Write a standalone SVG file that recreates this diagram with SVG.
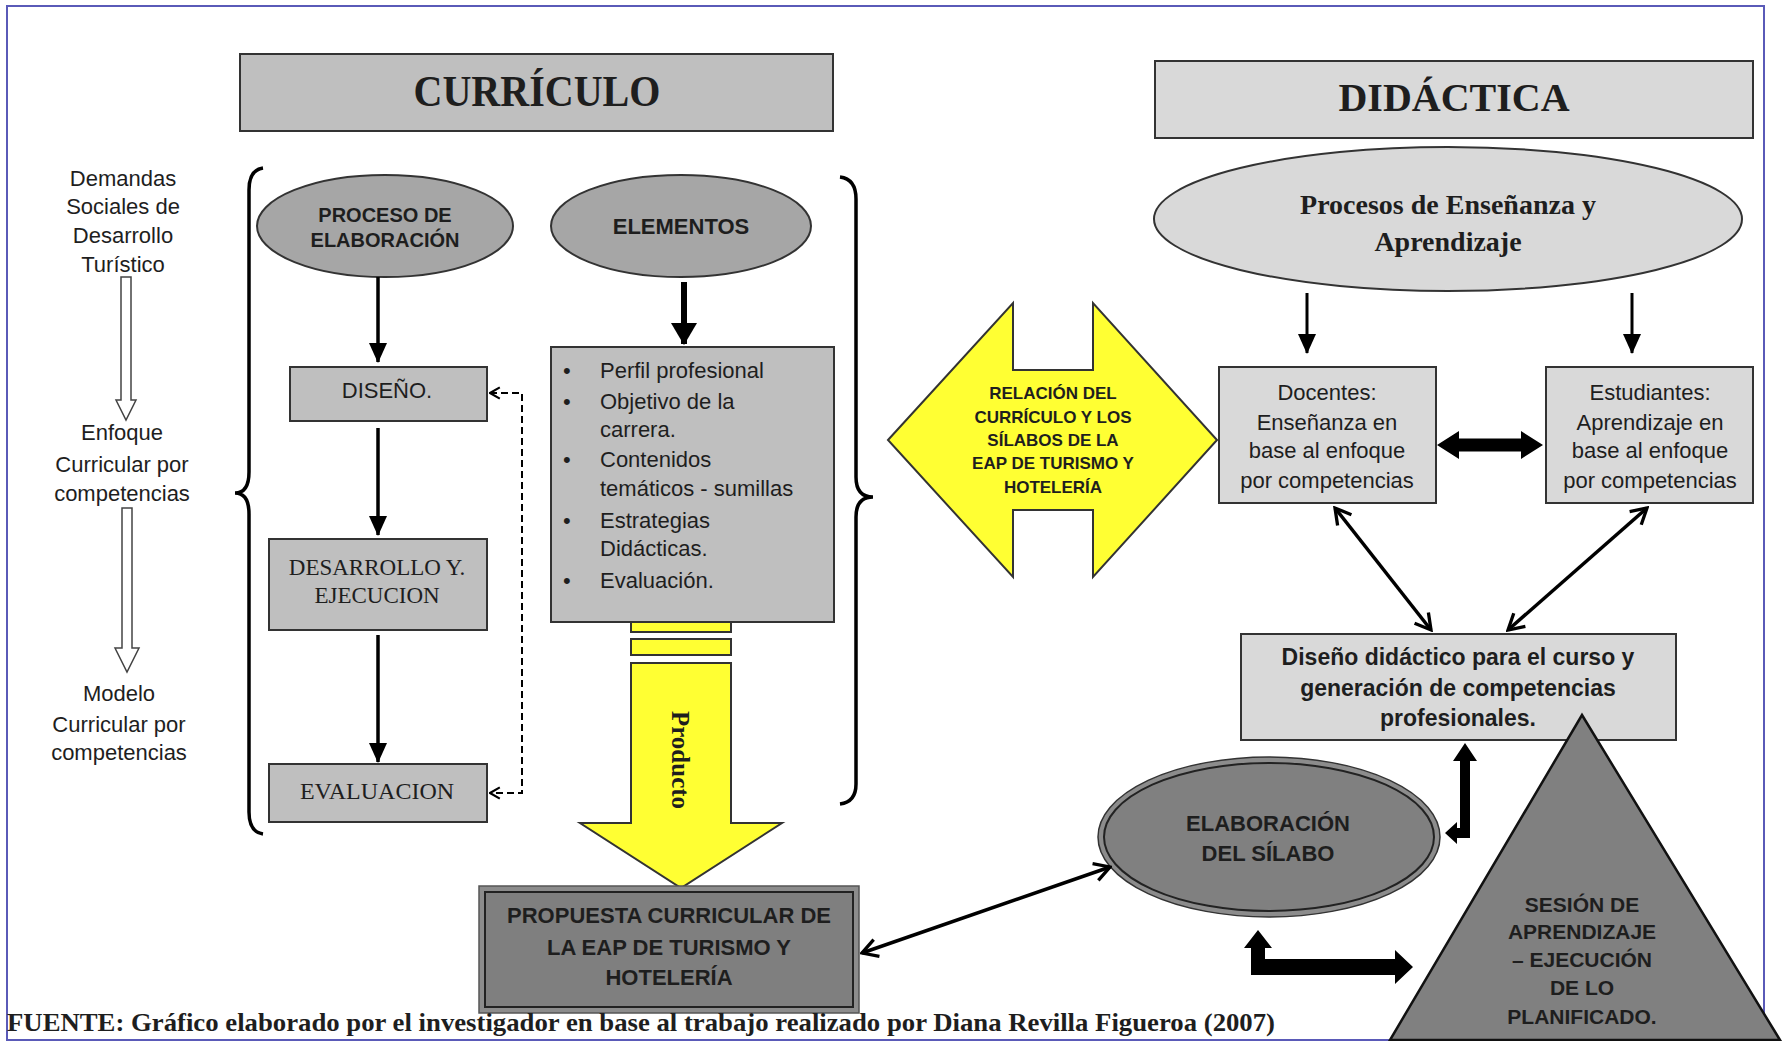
<svg xmlns="http://www.w3.org/2000/svg" width="1784" height="1041" viewBox="0 0 1784 1041">
<defs>
<style>
.s{font-family:"Liberation Sans",Arial,sans-serif;fill:#1e1e1e}
.r{font-family:"Liberation Serif","Times New Roman",serif;fill:#1e1e1e}
.b{font-weight:bold}
.c{text-anchor:middle}
.box{stroke:#333;stroke-width:2}
.g1{fill:#bfbfbf}.g2{fill:#d9d9d9}.g3{fill:#a6a6a6}.g4{fill:#808080}
.yel{fill:#ffff33;stroke:#333;stroke-width:2}
.ln{fill:none;stroke:#000;stroke-width:3.5}
.hol{fill:#fff;stroke:#444;stroke-width:1.5}
.brace{fill:none;stroke:#000;stroke-width:3.5}
.thick{fill:#000;stroke:none}
</style>
<marker id="ah" viewBox="0 0 20 20" refX="19" refY="10" markerUnits="userSpaceOnUse" markerWidth="20" markerHeight="18" orient="auto" preserveAspectRatio="none"><path d="M0,0 L20,10 L0,20 Z" fill="#000"/></marker>
<marker id="ahb" viewBox="0 0 20 20" refX="19" refY="10" markerUnits="userSpaceOnUse" markerWidth="22" markerHeight="26" orient="auto" preserveAspectRatio="none"><path d="M0,0 L20,10 L0,20 Z" fill="#000"/></marker>
<marker id="ov" viewBox="0 0 20 20" refX="18" refY="10" markerUnits="userSpaceOnUse" markerWidth="22" markerHeight="22" orient="auto-start-reverse"><path d="M4,2 L18,10 L4,18" fill="none" stroke="#000" stroke-width="3"/></marker>
<marker id="ovs" viewBox="0 0 20 20" refX="18" refY="10" markerUnits="userSpaceOnUse" markerWidth="14" markerHeight="16" orient="auto-start-reverse"><path d="M4,2 L18,10 L4,18" fill="none" stroke="#000" stroke-width="3"/></marker>
</defs>
<rect x="0" y="0" width="1784" height="1041" fill="#fff"/>
<rect id="frame" x="7" y="6" width="1757" height="1034" fill="none" stroke="#5a5ab8" stroke-width="2"/>

<g id="curriculo">
<rect class="box g1" x="240" y="54" width="593" height="77" stroke-width="2.5"/>
<text class="r b c" x="537" y="106" font-size="44" textLength="247" lengthAdjust="spacingAndGlyphs">CURRÍCULO</text>
</g>
<g id="didactica">
<rect class="box g2" x="1155" y="61" width="598" height="77" stroke-width="2.5"/>
<text class="r b c" x="1454" y="111" font-size="40">DIDÁCTICA</text>
</g>

<g id="left-column">
<text class="s c" font-size="22" fill="#333"><tspan x="123" y="186">Demandas</tspan><tspan x="123" y="214">Sociales de</tspan><tspan x="123" y="243">Desarrollo</tspan><tspan x="123" y="272">Turístico</tspan></text>
<path class="hol" d="M121,277 L131,277 L131,400 L136,400 L126,420 L116,400 L121,400 Z"/>
<text class="s c" font-size="22" fill="#333"><tspan x="122" y="440">Enfoque</tspan><tspan x="122" y="472">Curricular por</tspan><tspan x="122" y="501">competencias</tspan></text>
<path class="hol" d="M122,508 L132,508 L132,648 L139,648 L127,672 L115,648 L122,648 Z"/>
<text class="s c" font-size="22" fill="#333"><tspan x="119" y="701">Modelo</tspan><tspan x="119" y="732">Curricular por</tspan><tspan x="119" y="760">competencias</tspan></text>
</g>

<g id="braces">
<path class="brace" d="M263,168 Q249,170 249,190 L249,472 Q249,493 235,493 Q249,493 249,514 L249,812 Q249,832 263,834"/>
<path class="brace" d="M840,177 Q856,179 856,199 L856,477 Q856,497 873,497 Q856,497 856,517 L856,784 Q856,802 840,804"/>
</g>

<g id="proceso">
<ellipse class="box g3" cx="385" cy="226" rx="128" ry="51"/>
<text class="s b c" font-size="20"><tspan x="385" y="222">PROCESO DE</tspan><tspan x="385" y="247">ELABORACIÓN</tspan></text>
</g>
<g id="elementos">
<ellipse class="box g3" cx="681" cy="226" rx="130" ry="51"/>
<text class="s b c" x="681" y="234" font-size="22">ELEMENTOS</text>
</g>

<g id="diseno">
<rect class="box g1" x="290" y="367" width="197" height="54"/>
<text class="s c" x="387" y="398" font-size="22" fill="#333">DISEÑO.</text>
</g>
<g id="desarrollo">
<rect class="box g1" x="269" y="539" width="218" height="91"/>
<text class="r c" font-size="23" fill="#333"><tspan x="377" y="575">DESARROLLO Y.</tspan><tspan x="377" y="603">EJECUCION</tspan></text>
</g>
<g id="evaluacion">
<rect class="box g1" x="269" y="764" width="218" height="58"/>
<text class="r c" x="377" y="799" font-size="24" fill="#333">EVALUACION</text>
</g>

<g id="producto">
<rect class="yel" x="631" y="622" width="100" height="10"/>
<rect class="yel" x="631" y="639" width="100" height="16"/>
<path class="yel" d="M631,663 L731,663 L731,823 L782,823 L681,888 L580,823 L631,823 Z"/>
<text class="r b c" transform="translate(680,760) rotate(90)" x="0" y="8" font-size="25">Producto</text>
</g>

<g id="lista-elementos">
<rect class="box g1" x="551" y="347" width="283" height="275"/>
<g class="s" font-size="22">
<text x="563" y="378">•</text><text x="600" y="378">Perfil profesional</text>
<text x="563" y="409">•</text><text x="600" y="409">Objetivo de la</text>
<text x="600" y="437">carrera.</text>
<text x="563" y="467">•</text><text x="600" y="467">Contenidos</text>
<text x="600" y="496">temáticos - sumillas</text>
<text x="563" y="528">•</text><text x="600" y="528">Estrategias</text>
<text x="600" y="556">Didácticas.</text>
<text x="563" y="588">•</text><text x="600" y="588">Evaluación.</text>
</g>
</g>

<g id="propuesta">
<rect x="479" y="886" width="380" height="127" fill="#8c8c8c" stroke="#555" stroke-width="1.5"/>
<rect x="485" y="892" width="368" height="115" fill="#7f7f7f" stroke="#222" stroke-width="2"/>
<text class="s b c" font-size="22"><tspan x="669" y="923">PROPUESTA CURRICULAR DE</tspan><tspan x="669" y="955">LA EAP DE TURISMO Y</tspan><tspan x="669" y="985">HOTELERÍA</tspan></text>
</g>

<g id="relacion">
<path class="yel" d="M888,440 L1013,303 L1013,370 L1093,370 L1093,303 L1217,440 L1093,577 L1093,510 L1013,510 L1013,577 Z"/>
<text class="s b c" font-size="17"><tspan x="1053" y="399">RELACIÓN DEL</tspan><tspan x="1053" y="423">CURRÍCULO Y LOS</tspan><tspan x="1053" y="446">SÍLABOS DE LA</tspan><tspan x="1053" y="469">EAP DE TURISMO Y</tspan><tspan x="1053" y="493">HOTELERÍA</tspan></text>
</g>

<g id="procesos">
<ellipse class="box g2" cx="1448" cy="219" rx="294" ry="72"/>
<text class="r b c" font-size="28"><tspan x="1448" y="214">Procesos de Enseñanza y</tspan><tspan x="1448" y="251">Aprendizaje</tspan></text>
</g>
<g id="docentes">
<rect class="box g2" x="1219" y="367" width="217" height="136"/>
<text class="s c" font-size="22"><tspan x="1327" y="400">Docentes:</tspan><tspan x="1327" y="430">Enseñanza en</tspan><tspan x="1327" y="458">base al enfoque</tspan><tspan x="1327" y="488">por competencias</tspan></text>
</g>
<g id="estudiantes">
<rect class="box g2" x="1546" y="367" width="207" height="136"/>
<text class="s c" font-size="22"><tspan x="1650" y="400">Estudiantes:</tspan><tspan x="1650" y="430">Aprendizaje en</tspan><tspan x="1650" y="458">base al enfoque</tspan><tspan x="1650" y="488">por competencias</tspan></text>
</g>
<g id="diseno-didactico">
<rect class="box g2" x="1241" y="634" width="435" height="106"/>
<text class="s b c" font-size="23"><tspan x="1458" y="665">Diseño didáctico para el curso y</tspan><tspan x="1458" y="696">generación de competencias</tspan><tspan x="1458" y="726">profesionales.</tspan></text>
</g>
<g id="elaboracion">
<ellipse cx="1269" cy="837" rx="171" ry="80" fill="#8c8c8c" stroke="#333" stroke-width="1.5"/>
<ellipse cx="1269" cy="837" rx="165" ry="74" fill="#808080" stroke="#222" stroke-width="2"/>
<text class="s b c" font-size="22"><tspan x="1268" y="831">ELABORACIÓN</tspan><tspan x="1268" y="861">DEL SÍLABO</tspan></text>
</g>
<g id="sesion">
<path d="M1582,715 L1780,1040 L1390,1040 Z" fill="#808080" stroke="#111" stroke-width="2.5"/>
<text class="s b c" font-size="21"><tspan x="1582" y="912">SESIÓN DE</tspan><tspan x="1582" y="939">APRENDIZAJE</tspan><tspan x="1582" y="967">– EJECUCIÓN</tspan><tspan x="1582" y="995">DE LO</tspan><tspan x="1582" y="1024">PLANIFICADO.</tspan></text>
</g>

<g id="connectors">
<line class="ln" x1="378" y1="277" x2="378" y2="362" marker-end="url(#ah)"/>
<line class="ln" x1="378" y1="428" x2="378" y2="535" marker-end="url(#ah)"/>
<line class="ln" x1="378" y1="635" x2="378" y2="762" marker-end="url(#ah)"/>
<line x1="684" y1="282" x2="684" y2="344" stroke="#000" stroke-width="6" marker-end="url(#ahb)"/>
<path d="M490,393 L522,393 L522,793 L490,793" fill="none" stroke="#000" stroke-width="2" stroke-dasharray="7,4" marker-start="url(#ovs)" marker-end="url(#ovs)"/>
<line x1="1307" y1="293" x2="1307" y2="353" stroke="#000" stroke-width="3" marker-end="url(#ah)"/>
<line x1="1632" y1="293" x2="1632" y2="353" stroke="#000" stroke-width="3" marker-end="url(#ah)"/>
<path class="thick" d="M1437,445 L1459,431 L1459,438.5 L1521,438.5 L1521,431 L1543,445 L1521,459 L1521,451.5 L1459,451.5 L1459,459 Z"/>
<line class="ln" x1="1335" y1="508" x2="1431" y2="630" marker-start="url(#ov)" marker-end="url(#ov)"/>
<line class="ln" x1="1647" y1="508" x2="1508" y2="630" marker-start="url(#ov)" marker-end="url(#ov)"/>
<line class="ln" x1="862" y1="953" x2="1110" y2="867" marker-start="url(#ov)" marker-end="url(#ov)"/>
<path class="thick" d="M1465,743 L1477,761 L1470,761 L1470,838 L1457,838 L1457,844 L1445,833 L1457,822 L1457,828 L1460,828 L1460,761 L1453,761 Z"/>
<path class="thick" d="M1258,930 L1272,948 L1265,948 L1265,959 L1395,959 L1395,950 L1413,967 L1395,984 L1395,975 L1251,975 L1251,948 L1244,948 Z"/>
</g>

<text id="fuente" class="r b" x="7" y="1031" font-size="25" textLength="1268" lengthAdjust="spacingAndGlyphs" fill="#000">FUENTE: Gráfico elaborado por el investigador en base al trabajo realizado por Diana Revilla Figueroa (2007)</text>
</svg>
